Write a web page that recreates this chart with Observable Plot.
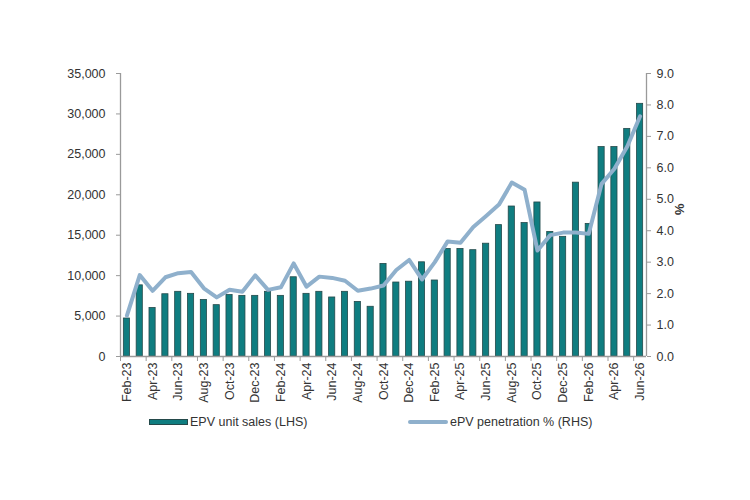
<!DOCTYPE html>
<html>
<head>
<meta charset="utf-8">
<script src="https://cdn.jsdelivr.net/npm/d3@7"></script>
<script src="https://cdn.jsdelivr.net/npm/@observablehq/plot@0.6"></script>
<style>
  html, body { margin: 0; padding: 0; background: #fff; }
  body { width: 750px; height: 500px; position: relative; font-family: "Liberation Sans", Arial, sans-serif; color: #333; }
  #chart { position: absolute; left: 0; top: 0; }
  .legend { position: absolute; top: 413px; font-size: 12.5px; line-height: 18px; color: #333; white-space: nowrap; }
  .legend .sw { position: absolute; }
</style>
</head>
<body>
<div id="chart"></div>
<div class="legend" style="left:149px">
  <span class="sw" style="left:0;top:6px;width:37px;height:4px;background:#0f7d80;border:1px solid #24494a"></span>
  <span style="position:absolute;left:41px;top:0">EPV unit sales (LHS)</span>
</div>
<div class="legend" style="left:408px">
  <span class="sw" style="left:0;top:7px;width:40px;height:4px;background:#8fb0cc;border-radius:2px"></span>
  <span style="position:absolute;left:42px;top:0">ePV penetration % (RHS)</span>
</div>
<script>
// Monthly categories, Feb-23 to Jun-26
const months = [
  "Feb-23","Mar-23","Apr-23","May-23","Jun-23","Jul-23","Aug-23","Sep-23","Oct-23","Nov-23","Dec-23",
  "Jan-24","Feb-24","Mar-24","Apr-24","May-24","Jun-24","Jul-24","Aug-24","Sep-24","Oct-24","Nov-24","Dec-24",
  "Jan-25","Feb-25","Mar-25","Apr-25","May-25","Jun-25","Jul-25","Aug-25","Sep-25","Oct-25","Nov-25","Dec-25",
  "Jan-26","Feb-26","Mar-26","Apr-26","May-26","Jun-26"
];

// EPV unit sales (left axis)
const sales = [
  4700, 8800, 6000, 7700, 8000, 7750, 7000, 6350, 7600, 7500, 7500,
  8000, 7500, 9800, 7750, 8000, 7300, 8000, 6750, 6150, 11450, 9150, 9250,
  11650, 9400, 13300, 13300, 13150, 13950, 16250, 18550, 16500, 19050, 15400, 14800,
  21500, 16400, 25900, 25900, 28150, 31250
];

// ePV penetration % (right axis)
const penetration = [
  1.30, 2.59, 2.09, 2.52, 2.65, 2.69, 2.17, 1.88, 2.12, 2.06, 2.58,
  2.12, 2.20, 2.96, 2.22, 2.54, 2.50, 2.41, 2.09, 2.16, 2.26, 2.75, 3.07,
  2.45, 3.00, 3.66, 3.62, 4.12, 4.47, 4.83, 5.53, 5.30, 3.37, 3.86, 3.94,
  3.94, 3.90, 5.49, 5.97, 6.68, 7.64
];

// Axis settings
const leftMax = 35000;
const rightMax = 9;
const leftTicks = d3.range(0, leftMax + 1, 5000);
const rightTicks = d3.range(0, rightMax + 1, 1);

const rows = months.map((m, i) => ({i, month: m, sales: sales[i], pct: penetration[i]}));
const toLeft = p => p * leftMax / rightMax;

const labelIdx = d3.range(0, months.length, 2);
const boundaries = d3.range(-0.5, months.length - 1, 2);
const axisGray = "#9a9a9a";
const half = 0.24;

const chart = Plot.plot({
  width: 750,
  height: 406,
  marginLeft: 120,
  marginRight: 104,
  marginTop: 73,
  marginBottom: 50,
  style: {fontFamily: "'Liberation Sans', Arial, sans-serif", fontSize: "12.5px", color: "#333", background: "#fff", overflow: "visible"},
  x: {type: "linear", domain: [-0.5, months.length - 0.5], axis: null},
  y: {domain: [0, leftMax], axis: null},
  marks: [
    Plot.rectY(rows, {x1: d => d.i - half, x2: d => d.i + half, y1: 0, y2: "sales", fill: "#0f7d80", stroke: "#24494a", strokeWidth: 0.8}),
    Plot.lineY(rows, {x: "i", y: d => toLeft(d.pct), stroke: "#8fb0cc", strokeWidth: 4, strokeLinejoin: "round", strokeLinecap: "round"}),
    // axis lines
    Plot.ruleX([-0.5, months.length - 0.5], {stroke: axisGray, strokeWidth: 1.3}),
    Plot.ruleY([0], {stroke: axisGray, strokeWidth: 1.3}),
    // left axis
    Plot.axisY({anchor: "left", ticks: leftTicks, tickFormat: d3.format(","), tickSize: 4, tickPadding: 11, stroke: axisGray, fill: "#333", label: null}),
    // right axis (percent, mapped onto the left scale)
    Plot.axisY({anchor: "right", ticks: rightTicks.map(toLeft), tickFormat: v => (v * rightMax / leftMax).toFixed(1), tickSize: 4, tickPadding: 6, stroke: axisGray, fill: "#333", label: null}),
    Plot.text(["%"], {frameAnchor: "right", dx: 33, rotate: 90, fontWeight: "bold", fontSize: 13, fill: "#333"}),
    // x axis: boundary ticks and rotated month labels
    Plot.axisX({ticks: boundaries, tickFormat: () => "", tickSize: 5, stroke: axisGray, label: null}),
    Plot.axisX({ticks: labelIdx, tickFormat: i => months[i], tickSize: 0, tickPadding: 6, tickRotate: -90, fill: "#333", label: null})
  ]
});
document.getElementById("chart").appendChild(chart);
</script>
</body>
</html>
